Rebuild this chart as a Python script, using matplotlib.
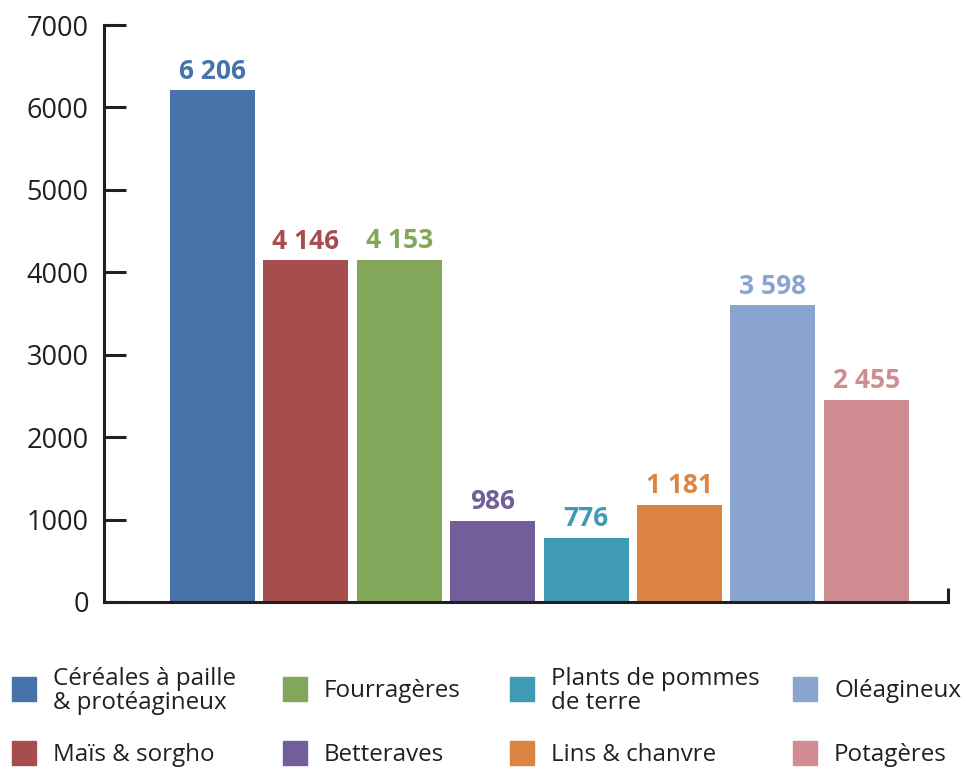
import matplotlib.pyplot as plt
from matplotlib.patches import Rectangle

categories = ["Céréales à paille\n& protéagineux", "Maïs & sorgho", "Fourragères", "Betteraves",
              "Plants de pommes\nde terre", "Lins & chanvre", "Oléagineux", "Potagères"]
values = [6206, 4146, 4153, 986, 776, 1181, 3598, 2455]
colors = ["#4674AA", "#A64D4D", "#82A65A", "#725E9A", "#3F9BB3", "#DB8443", "#89A4CF", "#D08C90"]
yticks = [0, 1000, 2000, 3000, 4000, 5000, 6000, 7000]

plt.rcParams['font.family'] = ['Open Sans', 'DejaVu Sans']
dark = "#231F20"

fig = plt.figure(figsize=(9.66, 7.69), dpi=100)
ax = fig.add_axes([104 / 966, 1 - 602 / 769, 844 / 966, 577 / 769])

x = list(range(len(values)))
bars = ax.bar(x, values, width=0.91, color=colors)
for b, v, c in zip(bars, values, colors):
    ax.annotate(f"{v:,}".replace(",", " "), (b.get_x() + b.get_width() / 2, v),
                xytext=(0, 4), textcoords="offset points", ha="center", va="bottom",
                color=c, fontsize=19, fontweight="bold")

ax.set_xlim(-1.162, 7.874)
ax.set_ylim(0, 7000)
ax.set_yticks(yticks)
ax.set_xticks([])
ax.tick_params(axis="y", direction="in", length=16, width=2.2, color=dark, labelsize=19.5,
               labelcolor=dark, pad=11)
for s in ["top", "right"]:
    ax.spines[s].set_visible(False)
for s in ["left", "bottom"]:
    ax.spines[s].set_linewidth(2.2)
    ax.spines[s].set_color(dark)
ax.plot([1, 1], [0, 0.025], transform=ax.transAxes, color=dark, lw=2.2, clip_on=False,
        solid_capstyle="butt")

# légende manuelle
col_x = [12, 283, 510, 793]
row_y = [689, 753]
for i, (lab, c) in enumerate(zip(categories, colors)):
    cx = col_x[i // 2]
    cy = row_y[i % 2]
    fig.add_artist(Rectangle(((cx) / 966, 1 - (cy + 12) / 769), 24 / 966, 24 / 769,
                             transform=fig.transFigure, color=c))
    t = fig.text((cx + 41) / 966, 1 - (cy + 2) / 769, lab, ha="left", va="center",
                 fontsize=17.4, color=dark, linespacing=1.0)

fig.savefig("out.png", dpi=100)
